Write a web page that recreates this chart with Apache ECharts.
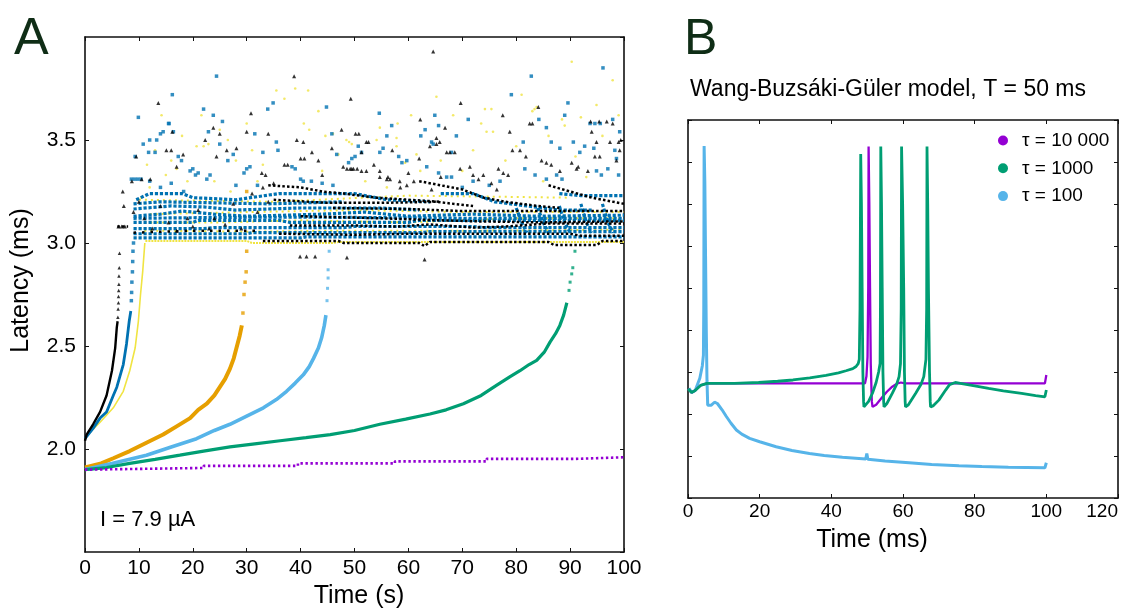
<!DOCTYPE html>
<html><head><meta charset="utf-8">
<script src="https://cdn.jsdelivr.net/npm/echarts/dist/echarts.min.js"></script>
<style>html,body{margin:0;padding:0;background:#fff}#c{width:1128px;height:610px}</style>
</head><body><div id="c"></div>
<script>
// ---------- Panel A data (Time s, Latency ms) ----------
const blackCurve = [[0,2.04],[0.3,2.07],[1.5,2.12],[2.8,2.18],[4.0,2.26],[5.0,2.38],[5.6,2.49],[5.9,2.59],[6.05,2.62]];
const blackRiseDots = [[6.1,2.64],[6.15,2.68],[6.2,2.71],[6.22,2.74],[6.25,2.77],[6.28,2.80],[6.3,2.84],[6.35,2.88],[6.4,2.95]];
const blueCurve = [[0,2.05],[1.5,2.10],[2.8,2.15],[4.0,2.18],[5.25,2.26],[5.9,2.30],[7.1,2.41],[7.7,2.51],[8.2,2.62],[8.5,2.67]];
const blueRiseDots = [[8.6,2.72],[8.65,2.76],[8.7,2.81],[8.8,2.86],[8.85,2.91],[8.9,2.96],[9.0,3.0]];
const yellowCurve = [[0,2.05],[0.9,2.08],[2.8,2.13],[5.25,2.20],[7.1,2.28],[8.3,2.38],[9.3,2.49],[9.9,2.62],[10.3,2.75],[10.7,2.86],[11.1,3.0]];
const orangeCurve = [[0,1.91],[3,1.93],[5.25,1.955],[8.3,1.99],[11.4,2.03],[14.5,2.07],[17,2.11],[19.5,2.15],[21,2.19],[22.6,2.22],[24,2.26],[25,2.30],[26,2.34],[26.9,2.39],[27.6,2.44],[28.1,2.49],[28.7,2.55],[29.1,2.60]];
const orangeRiseDots = [[29.3,2.66],[29.5,2.75],[29.7,2.81],[29.9,2.86],[30.0,2.96],[30.0,3.25]];
const skyCurve = [[0,1.90],[5,1.93],[11.4,1.97],[16,2.01],[20.7,2.05],[24,2.09],[26.9,2.12],[30,2.16],[33.1,2.20],[35.5,2.24],[37.4,2.28],[39,2.32],[40.5,2.36],[41.6,2.40],[42.4,2.44],[43.3,2.49],[43.9,2.54],[44.4,2.60],[44.7,2.65]];
const skyRiseDots = [[44.9,2.72],[45.0,2.78],[45.1,2.83],[45.1,2.87],[45.3,2.96]];
const greenCurve = [[0,1.90],[4,1.91],[8.3,1.93],[13,1.95],[17.6,1.97],[22,1.99],[26.9,2.01],[31.5,2.025],[36.2,2.04],[41,2.055],[45.5,2.07],[50,2.09],[54.7,2.12],[59.5,2.145],[64,2.17],[67,2.19],[70.2,2.22],[73.5,2.26],[76.4,2.31],[78.8,2.35],[80.7,2.38],[82.4,2.41],[83.8,2.43],[85.2,2.47],[86.3,2.52],[87.3,2.56],[88.1,2.60],[88.8,2.65],[89.4,2.71]];
const greenRiseDots = [[89.8,2.77],[90.0,2.81],[90.3,2.85],[90.5,2.88],[90.9,2.96]];
const purpleSteps = [[0,1.90],[1,1.90],[1,1.908],[22,1.908],[22,1.918],[39.5,1.918],[39.5,1.93],[57.5,1.93],[57.5,1.94],[74.5,1.94],[74.5,1.952],[91,1.952],[91,1.96],[100,1.96]];

const yellowTracks = [
  [[11.2,3.01],[30,3.01],[31,3.0],[46,3.0],[47,3.005],[100,3.005]],
  [[11,3.06],[30,3.055],[50,3.06],[75,3.06],[100,3.065]],
  [[11,3.10],[25,3.10],[40,3.11],[60,3.10],[80,3.12],[100,3.12]],
  [[12,3.14],[30,3.15],[50,3.16],[70,3.15],[100,3.15]],
  [[10,3.21],[35,3.20],[60,3.23],[90,3.22]]
];
const blueTracks = [
  [[9,3.025],[40,3.025],[41,3.03],[100,3.03]],
  [[9,3.045],[30,3.045],[31,3.05],[62,3.05],[64,3.055],[100,3.055]],
  [[9,3.07],[22,3.07],[24,3.075],[48,3.075],[50,3.08],[72,3.08],[74,3.075],[100,3.075]],
  [[9,3.10],[20,3.10],[21,3.11],[36,3.11],[38,3.10],[60,3.10],[62,3.11],[100,3.11]],
  [[9,3.12],[30,3.125],[45,3.125],[70,3.12],[100,3.12]],
  [[9,3.13],[14,3.14],[18,3.155],[24,3.14],[30,3.13],[44,3.14],[52,3.15],[60,3.13],[72,3.14],[84,3.13],[100,3.135]],
  [[9,3.165],[16,3.18],[22,3.175],[28,3.16],[40,3.17],[55,3.17],[62,3.16]],
  [[9,3.19],[14,3.20],[24,3.195],[34,3.19],[48,3.20]],
  [[9.5,3.21],[12,3.24],[18,3.24],[20,3.22],[28,3.21],[36,3.24],[50,3.24],[56,3.21],[64,3.20]],
  [[66,3.24],[72,3.24],[76,3.20],[82,3.18],[88,3.16],[94,3.16]],
  [[88,3.24],[92,3.23],[100,3.23]],
  [[80,3.17],[81,3.10],[82,3.05]],[[84,3.17],[85,3.10],[86,3.05]],[[88,3.18],[89,3.10],[90,3.05]],
  [[92,3.19],[93,3.10],[94,3.05]],[[96,3.19],[97,3.10],[98,3.05]]
];
const blackTracks = [
  [[33,3.01],[47,3.01],[48,3.0],[62,3.0],[63,2.985],[64,3.005],[86,3.005],[87,2.99],[95,2.99],[96,3.01],[100,3.01]],
  [[36,3.045],[50,3.04],[60,3.045],[72,3.045],[90,3.045],[92,3.035],[100,3.035]],
  [[6,3.08],[8,3.08]],
  [[38,3.085],[50,3.085],[58,3.08],[64,3.09],[72,3.075],[78,3.08],[86,3.095],[100,3.095]],
  [[40,3.13],[55,3.12],[66,3.11],[73,3.105],[85,3.10],[100,3.105]],
  [[46,3.17],[60,3.165],[70,3.155],[80,3.155],[100,3.155]],
  [[35,3.21],[45,3.195],[55,3.195],[65,3.20],[72,3.18]],
  [[34,3.28],[40,3.27],[44,3.25],[48,3.24],[54,3.22],[60,3.21],[66,3.20]],
  [[62,3.30],[66,3.28],[70,3.26],[74,3.22],[78,3.20],[84,3.18],[88,3.17]],
  [[86,3.28],[90,3.25],[94,3.22],[100,3.19]],
  [[9,3.05],[20,3.06],[32,3.06]]
];
const blackDots = [
  [6.2,3.08],[6.8,3.08],[7.4,3.08],[7.2,3.18],[7.0,3.25],[8.7,3.30],[9.5,3.42],[10.5,3.31],[12.1,3.31],[13.6,3.68],[15.1,3.45],[16.0,3.45],[16.2,3.54],[17.0,3.37],[18.2,3.43],[22.3,3.50],[23.8,3.56],[24.4,3.42],[25.0,3.53],[26.3,3.45],[28.1,3.46],[30.0,3.54],[30.8,3.63],[32.8,3.34],[33.5,3.33],[34.0,3.53],
  [9.0,3.15],[10.0,3.20],[11.0,3.12],[12.5,3.07],[14.0,3.18],[15.5,3.10],[17.0,3.06],[19.0,3.12],[20.0,3.08],[21.0,3.16],[23.0,3.07],[24.0,3.12],[26.0,3.09],[27.5,3.19],[29.0,3.07],[31.0,3.24],[32.0,3.15],[33.0,3.27],[34.0,3.20],[35.0,3.29],
  [39.9,2.935],[41.1,2.935],[42.7,2.935],[48.6,2.93],[63.0,2.92],
  [38.8,3.81],[49.3,3.70],[62.2,3.60],[47.6,3.55],[50.2,3.53],[50.8,3.53],[39.3,3.50],[40.5,3.49],[45.8,3.46],[65.2,3.51],[65.8,3.49],[67.1,3.44],[42.1,3.44],[52.6,3.49],[51.3,3.44],[40.0,3.41],[40.7,3.41],[43.3,3.40],[37.0,3.38],[37.6,3.38],[53.6,3.38],[54.7,3.35],[56.0,3.31],[48.6,3.36],[49.2,3.36],[49.8,3.36],[44.0,3.33],[58.5,3.27],[60.0,3.34],[61.0,3.30],[64.3,3.26],[66.0,3.32],[62.0,3.41],[57.0,3.45],[64.6,3.93],[64.0,3.47],[65.2,3.48],[66.8,3.56],[52.2,3.49],[47.9,3.37],[49.5,3.36],[50.5,3.36],[51.3,3.35],[52.2,3.35],[54.7,3.32],[56.2,3.32],[56.6,3.31],[58.4,3.30],[59.7,3.28],
  [69.7,3.68],[77.5,3.62],[78.8,3.54],[82.5,3.58],[83.0,3.58],[84.1,3.66],[93.8,3.59],[95.4,3.59],[96.8,3.59],[97.9,3.58],[99.2,3.45],[79.3,3.45],[80.7,3.45],[81.8,3.42],[84.7,3.40],[85.6,3.39],[86.5,3.38],[88.1,3.35],[91.5,3.37],[94.6,3.42],[95.5,3.42],[98.6,3.40],[99.0,3.49],[99.4,3.50],[69.6,3.36],[71.4,3.37],[72.0,3.33],[73.0,3.31],[73.9,3.33],[76.7,3.36],[77.6,3.34],[78.5,3.33],[90.3,3.39],[91.2,3.36],[93.3,3.35],[94.0,3.54],[94.9,3.49],[97.4,3.49],[67.7,3.44],[68.6,3.44],[75.4,3.29],[76.4,3.26]
];
const blueDots = [
  [9.3,3.42],[9.9,3.61],[10.8,3.48],[11.8,3.44],[13.0,3.44],[13.3,3.50],[14.5,3.54],[15.5,3.58],[15.6,3.58],[16.2,3.72],[16.4,3.54],[17.3,3.42],[17.9,3.40],[22.0,3.65],[22.9,3.54],[23.8,3.62],[25.5,3.59],[24.4,3.81],[25.0,3.48],[33.9,3.65],[34.9,3.68],[35.5,3.49],[35.8,3.45],[29.5,3.34],[30.0,3.36],[30.6,3.37],[19.5,3.35],[20.0,3.36],[20.5,3.33],[21.0,3.34],[22.6,3.31],[23.2,3.33],[8.6,3.31],[9.2,3.31],[9.8,3.31],[10.4,3.31],[12.0,3.30],[14.0,3.27],[16.0,3.29],[18.3,3.25],[26.5,3.40],[27.5,3.43],[28.0,3.28],[32.0,3.28],[33.0,3.44],[31.5,3.53],[14.0,3.53],[12.0,3.50],
  [44.8,3.66],[54.6,3.63],[56.9,3.57],[45.8,3.53],[56.0,3.52],[50.7,3.47],[51.3,3.44],[64.9,3.62],[65.6,3.57],[63.1,3.55],[62.3,3.52],[64.3,3.49],[64.6,3.48],[68.0,3.44],[68.9,3.52],[71.1,3.60],[58.8,3.39],[59.7,3.40],[48.9,3.39],[49.5,3.41],[50.1,3.42],[46.7,3.43],[54.7,3.44],[55.3,3.46],[58.2,3.42],[63.4,3.37],[65.6,3.34],[67.1,3.32],[68.0,3.32],[38.4,3.37],[39.0,3.36],[40.0,3.31],[40.5,3.30],[42.0,3.30],[44.0,3.29],[46.0,3.28],
  [82.8,3.81],[79.1,3.72],[89.6,3.68],[96.1,3.85],[81.3,3.49],[84.2,3.60],[85.6,3.56],[86.5,3.49],[88.1,3.46],[89.0,3.62],[90.6,3.49],[91.8,3.44],[92.7,3.47],[93.7,3.58],[94.6,3.58],[94.4,3.46],[95.6,3.58],[98.3,3.45],[98.6,3.41],[99.2,3.54],[97.9,3.60],[81.6,3.36],[83.5,3.33],[85.6,3.31],[87.5,3.33],[88.5,3.31],[94.9,3.35],[95.8,3.33],[97.0,3.36],[99.0,3.33],[70.0,3.27],[72.0,3.30],[75.0,3.28],[77.0,3.30]
];
const yellowDots = [
  [14.2,3.62],[21.6,3.62],[30.0,3.58],[20.7,3.47],[22.0,3.47],[22.9,3.48],[18.0,3.52],[13.0,3.45],[11.5,3.38],[16.0,3.40],[17.0,3.36],[15.0,3.33],[25.0,3.55],[26.5,3.50],[28.0,3.40],[31.0,3.45],[33.0,3.38],[35.5,3.74],[37.0,3.70],[19.0,3.30],[24.0,3.30],[12.0,3.27],[10.5,3.22],[27.0,3.25],[32.0,3.30],
  [39.0,3.75],[41.4,3.74],[43.3,3.64],[48.5,3.50],[49.0,3.49],[49.5,3.48],[40.6,3.58],[41.6,3.55],[46.0,3.53],[47.0,3.43],[44.6,3.52],[54.7,3.56],[57.8,3.51],[54.1,3.50],[57.8,3.47],[59.4,3.39],[61.5,3.43],[62.2,3.35],[68.3,3.62],[60.5,3.62],[58.0,3.58],[65.2,3.71],[52.0,3.30],[56.0,3.27],[44.0,3.35],[66.0,3.40],
  [74.2,3.65],[75.4,3.65],[81.0,3.72],[90.3,3.88],[97.9,3.79],[73.5,3.58],[74.5,3.54],[83.0,3.64],[83.4,3.65],[83.8,3.66],[88.5,3.60],[89.0,3.57],[92.0,3.61],[94.9,3.67],[96.0,3.52],[75.7,3.54],[86.0,3.52],[80.0,3.47],[78.0,3.40],[91.0,3.42],[99.0,3.62],[72.0,3.45],[70.0,3.35],[85.0,3.30],[93.0,3.32]
];

// ---------- Panel B data (Time ms, arbitrary units, axis 0..9) ----------
const tau10000 = [[0,2.6],[1,2.51],[2,2.56],[3.5,2.68],[5.3,2.73],[49.4,2.73],[49.8,2.9],[50.1,3.36],[50.3,5.0],[50.4,8.37],[50.6,7.0],[50.8,5.0],[51.0,3.2],[51.3,2.3],[51.5,2.17],[52.5,2.22],[54.3,2.41],[55.5,2.53],[57,2.65],[58.5,2.73],[59.4,2.75],[60.5,2.73],[99.6,2.73],[100,2.93]];
const tau1000 = [[0,2.6],[1,2.51],[2,2.56],[3.5,2.68],[5.3,2.73],[13,2.73],[19.7,2.75],[25,2.78],[29.3,2.81],[34,2.86],[38.5,2.92],[42,2.98],[44.1,3.03],[46,3.08],[46.9,3.13],[47.5,3.2],[47.8,3.3],[48.0,4.5],[48.2,8.19],[48.4,7.0],[48.6,5.0],[48.8,3.0],[49.0,2.3],[49.1,2.17],[49.6,2.17],[50.4,2.3],[51.5,2.5],[52.5,2.75],[53.2,3.0],[53.6,3.2],[53.7,4.5],[53.8,8.37],[54.0,7.0],[54.2,5.0],[54.4,3.0],[54.6,2.3],[54.7,2.17],[55.5,2.25],[57.0,2.49],[58.2,2.7],[58.9,2.89],[59.3,3.2],[59.5,4.5],[59.6,8.37],[59.9,7.0],[60.2,5.0],[60.4,3.0],[60.6,2.3],[60.7,2.17],[61.5,2.22],[63.5,2.49],[65,2.7],[65.8,2.89],[66.4,3.3],[66.6,4.5],[66.7,8.37],[66.9,7.0],[67.1,5.0],[67.4,3.0],[67.6,2.3],[67.7,2.17],[68.5,2.2],[70,2.33],[71.9,2.57],[73.0,2.7],[74.6,2.75],[76,2.73],[80,2.67],[83.9,2.61],[88,2.55],[93.1,2.49],[97,2.44],[99.6,2.41],[100,2.57]];
const tau100 = [[0.3,2.61],[1,2.51],[2,2.56],[3.3,2.85],[4.0,3.15],[4.3,3.4],[4.4,4.5],[4.5,8.38],[4.7,7.5],[4.9,5.75],[5.1,4.0],[5.3,2.8],[5.5,2.21],[6.5,2.21],[7.4,2.28],[8.2,2.25],[9.5,2.1],[10.7,1.94],[12,1.78],[13.5,1.62],[15,1.52],[17.2,1.42],[20,1.34],[24.6,1.22],[29,1.13],[33.9,1.06],[38,1.01],[43.1,0.97],[49.6,0.93],[49.9,1.06],[50.2,0.92],[55,0.88],[61.7,0.84],[68,0.80],[75.6,0.77],[82,0.75],[89.4,0.73],[99.6,0.72],[100,0.84]];
const legendNames = ['τ = 10 000','τ = 1000','τ = 100'];

const COL = {black:'#000000', blue:'#0072B2', yellow:'#F0E442', orange:'#E69F00', sky:'#56B4E9', green:'#009E73', purple:'#9400D3'};
const FONT = '"Liberation Sans", Arial, Helvetica, sans-serif';

function lineA(data, color, width, type, z){
  return {type:'line', xAxisIndex:0, yAxisIndex:0, data, symbol:'none', smooth:false, silent:true, z:z||2,
    lineStyle:{color, width, type: type||'solid', cap:'butt'}};
}
function dotsA(data, color, symbol, size, z){
  return {type:'scatter', xAxisIndex:0, yAxisIndex:0, data, symbol, symbolSize:size, silent:true, z:z||2,
    itemStyle:{color}};
}
const series = [];
yellowTracks.forEach((t,i)=>series.push(lineA(t, COL.yellow, 2, i===0?[2,1]:[2,4], 2)));
series.push(dotsA(yellowDots, COL.yellow, 'circle', 2.6, 2));
blueTracks.forEach(t=>series.push(lineA(t, COL.blue, 3.2, [3.2,1.8], 3)));
series.push(dotsA(blueDots, COL.blue, 'rect', 3.5, 3));
blackTracks.forEach((t,i)=>series.push(lineA(t, COL.black, 2.5, i===blackTracks.length-1?[2.5,6]:[2.5,2.2], 4)));
series.push(dotsA(blackDots, COL.black, 'triangle', 4, 4));
series.push(lineA(yellowCurve, COL.yellow, 1.6, 'solid', 5));
series.push(lineA(blueCurve, COL.blue, 2.8, 'solid', 5));
series.push(dotsA(blueRiseDots, COL.blue, 'rect', 3.5, 5));
series.push(lineA(blackCurve, COL.black, 2.4, 'solid', 6));
series.push(dotsA(blackRiseDots, COL.black, 'triangle', 3.5, 6));
series.push(lineA(orangeCurve, COL.orange, 4, 'solid', 5));
series.push(dotsA(orangeRiseDots, COL.orange, 'rect', 3.5, 5));
series.push(lineA(skyCurve, COL.sky, 3.6, 'solid', 5));
series.push(dotsA(skyRiseDots, COL.sky, 'rect', 3, 5));
series.push(lineA(greenCurve, COL.green, 3.2, 'solid', 5));
series.push(dotsA(greenRiseDots, COL.green, 'rect', 3, 5));
series.push(lineA(purpleSteps, COL.purple, 2.6, [2.4,2.6], 5));

function lineB(name, data, color, width, z){
  return {name, type:'line', xAxisIndex:2, yAxisIndex:2, data, symbol:'none', silent:true, z,
    itemStyle:{color}, lineStyle:{color, width}};
}
series.push(lineB(legendNames[2], tau100, COL.sky, 3, 3));
series.push(lineB(legendNames[0], tau10000, COL.purple, 2.3, 4));
series.push(lineB(legendNames[1], tau1000, COL.green, 2.8, 5));

const axisLineS = {show:true, onZero:false, lineStyle:{color:'#111', width:1.6}};
const tickS = {show:true, inside:true, length:4, lineStyle:{color:'#111', width:1}};
const lbl = (size, margin) => ({color:'#000', fontSize:size, fontFamily:FONT, margin});

const option = {
  animation:false,
  backgroundColor:'#ffffff',
  textStyle:{fontFamily:FONT},
  title:[
    {text:'A', left:14, top:14, padding:0, textStyle:{fontSize:52, fontWeight:'normal', color:'#0f2d16', fontFamily:FONT}},
    {text:'B', left:684, top:15, padding:0, textStyle:{fontSize:50, fontWeight:'normal', color:'#0f2d16', fontFamily:FONT}},
    {text:'Wang-Buzsáki-Güler model, T = 50 ms', left:690, top:78, padding:0, textStyle:{fontSize:23, fontWeight:'normal', color:'#000', fontFamily:FONT}},
    {text:'I = 7.9 µA', left:100, top:509, padding:0, textStyle:{fontSize:22, fontWeight:'normal', color:'#000', fontFamily:FONT}}
  ],
  legend:{
    data:legendNames, orient:'vertical', left:998, top:131, padding:0,
    icon:'circle', itemWidth:28, itemHeight:10, itemGap:8.8,
    textStyle:{fontSize:19, lineHeight:19, color:'#000', fontFamily:FONT}
  },
  grid:[
    {left:85, top:37, width:539, height:515, containLabel:false, outerBoundsMode:'none'},
    {left:688, top:120, width:430, height:378, containLabel:false, outerBoundsMode:'none'}
  ],
  xAxis:[
    {gridIndex:0, type:'value', min:0, max:100, interval:10, position:'bottom',
     axisLine:axisLineS, axisTick:tickS, splitLine:{show:false}, axisLabel:lbl(21,6),
     name:'Time (s)', nameLocation:'middle', nameGap:30, nameTextStyle:{fontSize:25, color:'#000', fontFamily:FONT, padding:[0,0,0,9]}},
    {gridIndex:0, type:'value', min:0, max:100, interval:10, position:'top',
     axisLine:axisLineS, axisTick:tickS, splitLine:{show:false}, axisLabel:{show:false}},
    {gridIndex:1, type:'value', min:0, max:120, interval:20, position:'bottom',
     axisLine:axisLineS, axisTick:tickS, splitLine:{show:false}, axisLabel:Object.assign(lbl(19,4), {alignMaxLabel:'right'}),
     name:'Time (ms)', nameLocation:'middle', nameGap:30, nameTextStyle:{fontSize:25, color:'#000', fontFamily:FONT, padding:[0,62,0,0]}},
    {gridIndex:1, type:'value', min:0, max:120, interval:20, position:'top',
     axisLine:axisLineS, axisTick:tickS, splitLine:{show:false}, axisLabel:{show:false}}
  ],
  yAxis:[
    {gridIndex:0, type:'value', min:1.5, max:4, interval:0.5, position:'left',
     axisLine:axisLineS, axisTick:tickS, splitLine:{show:false},
     axisLabel:Object.assign(lbl(21,9), {showMinLabel:false, showMaxLabel:false, formatter:v=>v.toFixed(1)}),
     name:'Latency (ms)', nameLocation:'middle', nameGap:51, nameRotate:90, nameTextStyle:{fontSize:25, color:'#000', fontFamily:FONT, padding:[0,0,0,28]}},
    {gridIndex:0, type:'value', min:1.5, max:4, interval:0.5, position:'right',
     axisLine:axisLineS, axisTick:tickS, splitLine:{show:false}, axisLabel:{show:false}},
    {gridIndex:1, type:'value', min:0, max:9, interval:1, position:'left',
     axisLine:axisLineS, axisTick:tickS, splitLine:{show:false}, axisLabel:{show:false}},
    {gridIndex:1, type:'value', min:0, max:9, interval:1, position:'right',
     axisLine:axisLineS, axisTick:tickS, splitLine:{show:false}, axisLabel:{show:false}}
  ],
  series
};
const chart = echarts.init(document.getElementById('c'), null, {renderer:'canvas'});
chart.setOption(option);
</script></body></html>
